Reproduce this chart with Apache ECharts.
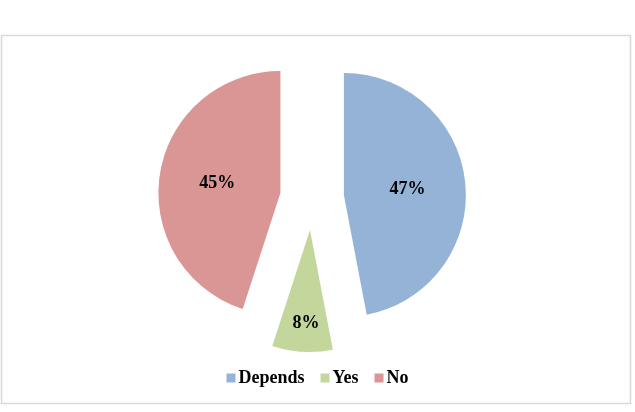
<!DOCTYPE html>
<html><head><meta charset="utf-8">
<script src="https://cdn.jsdelivr.net/npm/echarts@6/dist/echarts.min.js"></script>
<style>html,body{margin:0;padding:0;background:#fff}#c{width:635px;height:412px}</style>
</head><body><div id="c"></div>
<script>
const categories = ['Depends', 'Yes', 'No'];
const values = [47, 8, 45];
const colors = ['#95B3D7', '#C3D69B', '#D99694'];

const chart = echarts.init(document.getElementById('c'));
const font = '"Liberation Serif", "Times New Roman", serif';
chart.setOption({
  animation: false,
  graphic: [{
    type: 'rect', shape: {x: 1.5, y: 35.5, width: 629, height: 368},
    style: {fill: 'none', stroke: '#D9D9D9', lineWidth: 1.5}, z: -1
  }],
  legend: {
    bottom: 20, left: 'center',
    icon: 'rect', itemWidth: 9, itemHeight: 9, itemGap: 16, itemStyle: {borderWidth: 0},
    textStyle: {fontFamily: font, fontWeight: 'bold', fontSize: 18, color: '#000', padding: [0, 0, 0, -2]},
    data: categories
  },
  series: [{
    type: 'pie',
    center: [312, 198],
    radius: 122,
    startAngle: 90,
    clockwise: true,
    selectedMode: 'multiple',
    selectedOffset: 32,
    label: {
      position: 'inside',
      formatter: p => p.value + '%',
      fontFamily: font, fontWeight: 'bold', fontSize: 18, color: '#000'
    },
    labelLayout: function (p) { if (p.dataIndex === 1) return {dy: 30}; return {}; },
    emphasis: {disabled: true},
    data: categories.map((c, i) => ({name: c, value: values[i], selected: true, itemStyle: {color: colors[i]}}))
  }]
});
</script></body></html>
